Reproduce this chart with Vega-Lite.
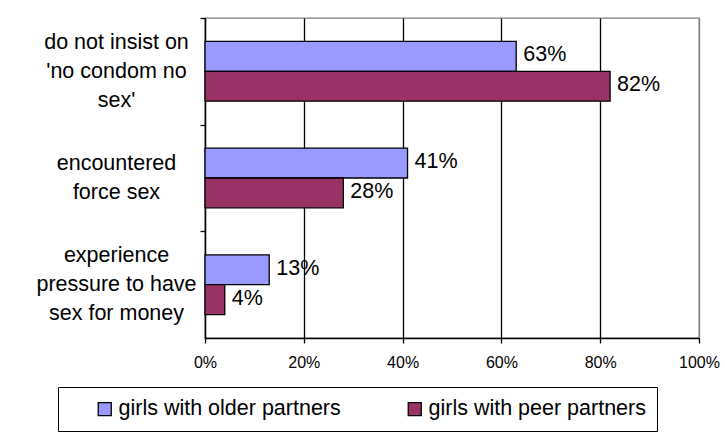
{
  "$schema": "https://vega.github.io/schema/vega-lite/v6.json",
  "width": 494,
  "height": 320,
  "autosize": {"type": "none"},
  "padding": {"left": 205, "top": 18, "right": 26, "bottom": 108},
  "background": "white",
  "title": {"text": "older", "anchor": "start", "frame": "group", "fontSize": 21.5, "font": "Liberation Sans", "fontWeight": "normal", "baseline": "alphabetic", "offset": 15, "dx": -178, "color": "black"},
  "config": {
    "view": {"stroke": "#808080", "strokeWidth": 1.3},
    "font": "Liberation Sans"
  },
  "data": {
    "values": [
      {"category": "do not insist on|'no condom no|sex'", "group": "girls with older partners", "value": 0.63},
      {"category": "do not insist on|'no condom no|sex'", "group": "girls with peer partners", "value": 0.82},
      {"category": "encountered|force sex", "group": "girls with older partners", "value": 0.41},
      {"category": "encountered|force sex", "group": "girls with peer partners", "value": 0.28},
      {"category": "experience|pressure to have|sex for money", "group": "girls with older partners", "value": 0.13},
      {"category": "experience|pressure to have|sex for money", "group": "girls with peer partners", "value": 0.04}
    ]
  },
  "encoding": {
    "y": {
      "field": "category", "type": "nominal", "sort": null,
      "scale": {"paddingInner": 0.44, "paddingOuter": 0.22},
      "axis": {
        "title": null,
        "domainColor": "black", "domainWidth": 1.3,
        "tickColor": "black", "tickWidth": 1.3, "tickSize": 5, "tickOffset": -53.3,
        "labelExpr": "split(datum.label, '|')",
        "labelFontSize": 21.5, "labelColor": "black", "labelLineHeight": 29,
        "labelAlign": "center",
        "labelBaseline": {"condition": {"test": "datum.value === 'encountered|force sex'", "value": "line-top"}, "value": "middle"},
        "labelOffset": 24,
        "labelLimit": 300,
        "labelPadding": 84
      }
    },
    "x": {
      "field": "value", "type": "quantitative",
      "scale": {"domain": [0, 1]},
      "axis": {
        "title": null, "values": [0, 0.2, 0.4, 0.6, 0.8, 1], "format": ".0%",
        "domainColor": "black", "domainWidth": 1.3,
        "tickColor": "black", "tickWidth": 1.3, "tickSize": 5,
        "labelFontSize": 16, "labelColor": "black", "labelPadding": 11, "labelFlush": false,
        "grid": true, "gridWidth": 1.3,
        "gridColor": {"condition": {"test": "datum.value === 1", "value": "#808080"}, "value": "black"}
      }
    },
    "yOffset": {"field": "group", "type": "nominal", "scale": {"paddingInner": 0, "paddingOuter": 0}}
  },
  "layer": [
    {
      "mark": {"type": "bar", "stroke": "black", "strokeWidth": 1.3},
      "encoding": {
        "color": {
          "field": "group", "type": "nominal",
          "scale": {"domain": ["girls with older partners", "girls with peer partners"], "range": ["#9999FF", "#993366"]},
          "legend": {
            "orient": "none", "legendX": -147, "legendY": 369,
            "direction": "horizontal", "title": null,
            "symbolType": "square", "symbolSize": 169, "symbolOpacity": 1,
            "symbolStrokeColor": "black", "symbolStrokeWidth": 1.3,
            "labelFontSize": 21.5, "labelColor": "black", "labelOffset": 3, "labelLimit": 400,
            "strokeColor": "black", "fillColor": "white",
            "padding": 11, "symbolOffset": 25, "columnPadding": 38
          }
        }
      }
    },
    {
      "mark": {"type": "text", "align": "left", "baseline": "middle", "dx": 7, "dy": -1, "fontSize": 21.5, "color": "black"},
      "encoding": {
        "text": {"field": "value", "type": "quantitative", "format": ".0%"}
      }
    }
  ]
}
